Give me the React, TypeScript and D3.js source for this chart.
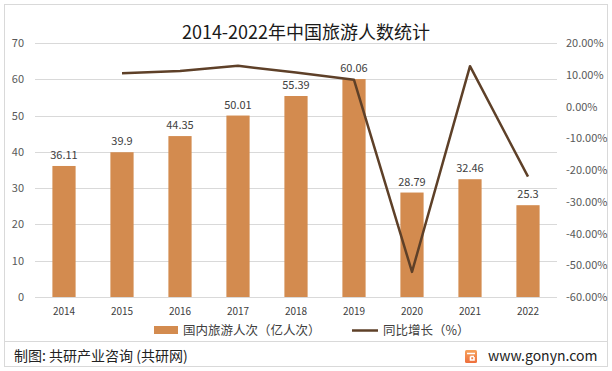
import React, { useEffect, useRef } from 'react';
import * as d3 from 'd3';

const years = ['2014', '2015', '2016', '2017', '2018', '2019', '2020', '2021', '2022'];
const visitors = [36.11, 39.9, 44.35, 50.01, 55.39, 60.06, 28.79, 32.46, 25.3];
const growth: (number | null)[] = [null, 10.5, 11.2, 12.8, 10.7, 8.4, -52.1, 12.7, -22.1];
const leftTicks = [0, 10, 20, 30, 40, 50, 60, 70];
const rightTicks = [-60, -50, -40, -30, -20, -10, 0, 10, 20];

const W = 612;
const H = 371;
const font = '"Noto Sans CJK SC", "Noto Sans", sans-serif';

const App: React.FC = () => {
  const svgRef = useRef<SVGSVGElement>(null);

  useEffect(() => {
    if (!svgRef.current) return;
    const svg = d3.select(svgRef.current);
    svg.selectAll('*').remove();

    const left = 35, right = 557, top = 43, bottom = 297;

    // frame
    svg.append('rect').attr('x', 0).attr('y', 0).attr('width', W).attr('height', H).attr('fill', '#fff');
    svg.append('rect').attr('x', 4.5).attr('y', 4.5).attr('width', 603).attr('height', 362)
      .attr('fill', 'none').attr('stroke', '#d9d9d9');
    svg.append('line').attr('x1', 4).attr('x2', 608).attr('y1', 341.5).attr('y2', 341.5).attr('stroke', '#d9d9d9');

    const x = d3.scaleBand<string>().domain(years).range([left, right]).paddingInner(0.6).paddingOuter(0.3);
    const yL = d3.scaleLinear().domain([0, 70]).range([bottom, top]);
    const yR = d3.scaleLinear().domain([-60, 20]).range([bottom, top]);

    svg.append('text').attr('x', 306).attr('y', 39).attr('text-anchor', 'middle')
      .attr('font-family', font).attr('font-size', 18).attr('fill', '#1a1a1a')
      .text('2014-2022年中国旅游人数统计');

    // grid
    svg.append('g').selectAll('line').data(leftTicks).enter().append('line')
      .attr('x1', left).attr('x2', right)
      .attr('y1', d => Math.round(yL(d)) + 0.5).attr('y2', d => Math.round(yL(d)) + 0.5)
      .attr('stroke', '#d9d9d9').attr('stroke-width', 1);

    svg.append('g').selectAll('text').data(leftTicks).enter().append('text')
      .attr('x', 24).attr('y', d => yL(d) + 4).attr('text-anchor', 'end')
      .attr('font-family', font).attr('font-size', 11).attr('fill', '#595959')
      .text(d => String(d));

    svg.append('g').selectAll('text').data(rightTicks).enter().append('text')
      .attr('x', 566).attr('y', d => yR(d) + 4).attr('text-anchor', 'start')
      .attr('font-family', font).attr('font-size', 11).attr('fill', '#595959')
      .text(d => d.toFixed(2) + '%');

    // bars
    svg.append('g').selectAll('rect').data(visitors).enter().append('rect')
      .attr('x', (_d, i) => x(years[i])!).attr('width', x.bandwidth())
      .attr('y', d => yL(d)).attr('height', d => bottom - yL(d))
      .attr('fill', '#D38B4F');

    svg.append('g').selectAll('text').data(visitors).enter().append('text')
      .attr('x', (_d, i) => x(years[i])! + x.bandwidth() / 2).attr('y', d => yL(d) - 7)
      .attr('text-anchor', 'middle').attr('font-family', font).attr('font-size', 11).attr('fill', '#404040')
      .text(d => String(d));

    // x labels
    svg.append('g').selectAll('text').data(years).enter().append('text')
      .attr('x', d => x(d)! + x.bandwidth() / 2).attr('y', 315)
      .attr('text-anchor', 'middle').attr('font-family', font).attr('font-size', 10).attr('fill', '#404040')
      .text(d => d);

    // line
    const pts = growth.map((g, i) => ({ g, i })).filter(p => p.g !== null) as { g: number; i: number }[];
    const line = d3.line<{ g: number; i: number }>()
      .x(p => x(years[p.i])! + x.bandwidth() / 2)
      .y(p => yR(p.g));
    svg.append('path').datum(pts).attr('d', line).attr('fill', 'none')
      .attr('stroke', '#5E4028').attr('stroke-width', 2.5).attr('stroke-linejoin', 'round');

    // legend
    svg.append('rect').attr('x', 154).attr('y', 326).attr('width', 24).attr('height', 8).attr('fill', '#D38B4F');
    svg.append('text').attr('x', 183).attr('y', 335).attr('font-family', font).attr('font-size', 12.5).attr('fill', '#404040')
      .text('国内旅游人次（亿人次）');
    svg.append('line').attr('x1', 352).attr('x2', 378).attr('y1', 330.5).attr('y2', 330.5)
      .attr('stroke', '#5E4028').attr('stroke-width', 2.5);
    svg.append('text').attr('x', 383).attr('y', 335).attr('font-family', font).attr('font-size', 12.5).attr('fill', '#404040')
      .text('同比增长（%）');

    // footer
    svg.append('text').attr('x', 14).attr('y', 361).attr('font-family', font).attr('font-size', 14).attr('fill', '#222')
      .text('制图: 共研产业咨询 (共研网)');
    const grad = svg.append('defs').append('linearGradient').attr('id', 'logoGrad')
      .attr('x1', 0).attr('y1', 0).attr('x2', 0).attr('y2', 1);
    grad.append('stop').attr('offset', '0%').attr('stop-color', '#F6A25B');
    grad.append('stop').attr('offset', '100%').attr('stop-color', '#EE6F3C');
    const logo = svg.append('g').attr('transform', 'translate(465,350)');
    logo.append('rect').attr('width', 12).attr('height', 13).attr('rx', 1.5).attr('fill', 'url(#logoGrad)');
    logo.append('path').attr('d', 'M2,3.5 H10 M9,6.5 H5.5 M5.5,6.5 V10 H9 V7').attr('fill', 'none').attr('stroke', '#fff').attr('stroke-width', 1.6);
    svg.append('text').attr('x', 488).attr('y', 361).attr('font-family', font).attr('font-size', 14).attr('fill', '#222')
      .text('www.gonyn.com');
  }, []);

  return (
    <div style={{ position: 'absolute', left: 0, top: 0 }}>
      <svg ref={svgRef} width={W} height={H} style={{ display: 'block' }}></svg>
    </div>
  );
};

export default App;
